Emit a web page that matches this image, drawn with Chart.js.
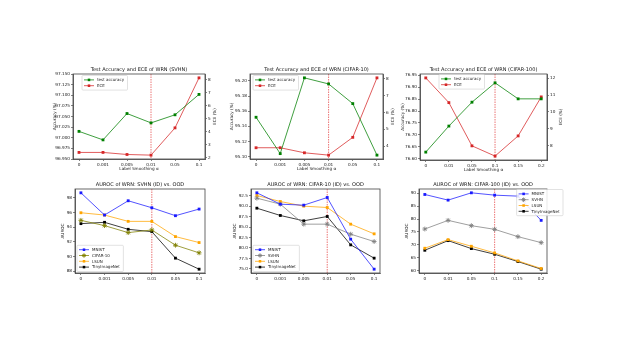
<!DOCTYPE html>
<html>
<head>
<meta charset="utf-8">
<script src="https://cdn.jsdelivr.net/npm/chart.js@4.4.0/dist/chart.umd.min.js"></script>
<style>
  body { margin: 0; background: #fff; width: 620px; height: 349px; position: relative; overflow: hidden; }
  canvas { position: absolute; }
</style>
</head>
<body>
<canvas id="c1"></canvas>
<canvas id="c2"></canvas>
<canvas id="c3"></canvas>
<canvas id="c4"></canvas>
<canvas id="c5"></canvas>
<canvas id="c6"></canvas>
<script>
// label smoothing values (x categories)
const smoothA = ['0', '0.001', '0.005', '0.01', '0.05', '0.1'];
const smoothB = ['0', '0.01', '0.05', '0.1', '0.15', '0.2'];

// test accuracy (%) and ECE (%)
const svhnAcc = [97.015, 96.995, 97.057, 97.035, 97.054, 97.102];
const svhnEce = [2.39, 2.39, 2.23, 2.18, 4.29, 8.16];
const c10Acc = [95.152, 95.104, 95.204, 95.196, 95.170, 95.102];
const c10Ece = [3.90, 3.90, 3.60, 3.46, 4.52, 8.06];
const c100Acc = [76.628, 76.737, 76.837, 76.918, 76.851, 76.851];
const c100Ece = [12.02, 10.55, 7.98, 7.37, 8.57, 10.89];

// AUROC, SVHN as ID
const svhnMnist = [98.68, 95.66, 97.60, 96.65, 95.57, 96.47];
const svhnCifar10 = [94.94, 94.22, 93.27, 93.63, 91.56, 90.52];
const svhnLsun = [95.97, 95.66, 94.80, 94.80, 92.73, 91.92];
const svhnTiny = [94.49, 94.67, 93.72, 93.40, 89.80, 88.30];

// AUROC, CIFAR-10 as ID
const c10Mnist = [93.22, 90.50, 90.26, 92.10, 82.11, 74.92];
const c10Svhn = [91.94, 90.50, 85.71, 85.71, 83.31, 81.55];
const c10Lsun = [92.58, 91.14, 90.02, 89.70, 85.71, 83.39];
const c10Tiny = [89.54, 87.79, 86.51, 87.55, 80.75, 77.56];

// AUROC, CIFAR-100 as ID
const c100Mnist = [89.49, 87.31, 90.13, 89.23, 88.85, 79.49];
const c100Svhn = [76.15, 79.49, 77.44, 76.03, 73.20, 70.90];
const c100Lsun = [68.72, 72.05, 69.49, 66.92, 63.85, 60.90];
const c100Tiny = [67.95, 71.67, 68.59, 66.41, 63.59, 60.64];

// tick labels
const svhnAccTicks = ['96.950', '96.975', '97.000', '97.025', '97.050', '97.075', '97.100', '97.125', '97.150'];
const svhnEceTicks = ['2', '3', '4', '5', '6', '7', '8'];
const c10AccTicks = ['95.10', '95.12', '95.14', '95.16', '95.18', '95.20'];
const c10EceTicks = ['4', '5', '6', '7', '8'];
const c100AccTicks = ['76.60', '76.65', '76.70', '76.75', '76.80', '76.85', '76.90', '76.95'];
const c100EceTicks = ['8', '9', '10', '11', '12'];
const svhnAurocTicks = ['88', '90', '92', '94', '96', '98'];
const c10AurocTicks = ['75.0', '77.5', '80.0', '82.5', '85.0', '87.5', '90.0', '92.5'];
const c100AurocTicks = ['60', '65', '70', '75', '80', '85', '90'];

const FONT = '"DejaVu Sans", sans-serif';
const TXT = '#222';
const FS = 4.2;

// matplotlib-like 5% margin
function lim(arrs) {
  const all = [].concat(...arrs);
  const lo = Math.min(...all), hi = Math.max(...all), m = (hi - lo) * 0.05;
  return [lo - m, hi + m];
}

function ds(label, data, color, style, axis) {
  return {
    label,
    data: data.map((v, i) => ({ x: i, y: v })),
    borderColor: color + 'c0',
    backgroundColor: color,
    pointBackgroundColor: color,
    pointBorderColor: color,
    pointStyle: style,
    pointRadius: style === 'star' ? 2.4 : 2,
    pointBorderWidth: style === 'star' ? 0.9 : 0,
    borderWidth: 1,
    yAxisID: axis || 'y',
    tension: 0
  };
}

function yScale(ticks, range, pos, width, title) {
  return {
    type: 'linear', position: pos, min: range[0], max: range[1],
    afterBuildTicks: s => { s.ticks = ticks.map(t => ({ value: parseFloat(t) })); },
    ticks: {
      callback: (v, i) => ticks[i],
      font: { family: FONT, size: FS }, color: TXT, padding: 1, autoSkip: false
    },
    grid: { drawOnChartArea: false, tickLength: 2, color: '#333', lineWidth: 0.6 },
    border: { color: '#444', width: 0.8 },
    // right-hand title is drawn by the deco plugin so it reads bottom-to-top
    title: { display: pos === 'left', text: title, font: { family: FONT, size: FS }, color: TXT, padding: 0 },
    afterFit: s => { s.width = width; }
  };
}

const deco = {
  id: 'deco',
  beforeDatasetsDraw(chart, args, o) {
    const a = chart.chartArea, ctx = chart.ctx;
    const x = chart.scales.x.getPixelForValue(o.vline);
    ctx.save();
    ctx.strokeStyle = 'rgba(225,50,50,0.75)';
    ctx.lineWidth = 0.9;
    ctx.setLineDash([1.5, 1]);
    ctx.beginPath();
    ctx.moveTo(x, a.top);
    ctx.lineTo(x, a.bottom);
    ctx.stroke();
    ctx.restore();
  },
  afterDraw(chart, args, o) {
    const a = chart.chartArea, ctx = chart.ctx;
    ctx.save();
    ctx.strokeStyle = '#444';
    ctx.lineWidth = 0.8;
    ctx.strokeRect(a.left, a.top, a.right - a.left, a.bottom - a.top);
    // title
    ctx.font = '5px ' + FONT;
    ctx.fillStyle = '#111';
    ctx.textAlign = 'center';
    ctx.textBaseline = 'bottom';
    ctx.fillText(o.title, (a.left + a.right) / 2, a.top - 1.5);
    // right axis title
    const y1 = chart.scales.y1;
    if (y1) {
      ctx.save();
      ctx.font = FS + 'px ' + FONT;
      ctx.fillStyle = TXT;
      ctx.textBaseline = 'middle';
      ctx.translate(y1.right - 2.5, (a.top + a.bottom) / 2);
      ctx.rotate(-Math.PI / 2);
      ctx.fillText(y1.options.title.text, 0, 0);
      ctx.restore();
    }
    // legend inside the axes
    const L = o.legend;
    const items = chart.data.datasets;
    ctx.font = '4px ' + FONT;
    const rowH = 5.8, pad = 1.5;
    const w = Math.max(...items.map(d => ctx.measureText(d.label).width)) + 17 + pad;
    const h = items.length * rowH + pad * 2;
    const x0 = L.at === 'ur' ? a.right + L.dx - w : a.left + L.dx;
    const y0 = L.at === 'll' ? a.bottom - L.dy - h : a.top + L.dy;
    ctx.fillStyle = 'rgba(255,255,255,0.85)';
    ctx.strokeStyle = '#cfcfcf';
    ctx.lineWidth = 0.6;
    ctx.beginPath();
    ctx.roundRect(x0, y0, w, h, 1);
    ctx.fill();
    ctx.stroke();
    ctx.textAlign = 'left';
    ctx.textBaseline = 'middle';
    items.forEach((d, i) => {
      const cy = y0 + pad + rowH * (i + 0.5);
      ctx.strokeStyle = d.borderColor;
      ctx.lineWidth = 1;
      ctx.beginPath();
      ctx.moveTo(x0 + 2, cy);
      ctx.lineTo(x0 + 12, cy);
      ctx.stroke();
      ctx.fillStyle = d.backgroundColor;
      ctx.strokeStyle = d.backgroundColor;
      Chart.helpers.drawPoint(ctx, { pointStyle: d.pointStyle, radius: d.pointRadius * 0.9, rotation: 0, borderWidth: d.pointBorderWidth }, x0 + 7, cy);
      ctx.fillStyle = TXT;
      ctx.fillText(d.label, x0 + 15, cy + 0.3);
    });
    ctx.restore();
  }
};
Chart.register(deco);

// canvas box [x, y, right, bottom], axes area [l, t, r, b]
function makeChart(id, box, area, cats, datasets, yL, yR, xTitle, title, legend) {
  const cv = document.getElementById(id);
  cv.style.left = box[0] + 'px';
  cv.style.top = box[1] + 'px';
  cv.width = box[2] - box[0];
  cv.height = box[3] - box[1];
  const scales = {
    x: {
      type: 'linear', min: -0.25, max: cats.length - 0.75,
      afterBuildTicks: s => { s.ticks = cats.map((_, i) => ({ value: i })); },
      ticks: {
        callback: (v, i) => cats[i],
        font: { family: FONT, size: FS }, color: TXT, padding: 1, maxRotation: 0, autoSkip: false
      },
      grid: { drawOnChartArea: false, tickLength: 2, color: '#333', lineWidth: 0.6 },
      border: { color: '#444', width: 0.8 },
      title: { display: !!xTitle, text: xTitle || '', font: { family: FONT, size: FS }, color: TXT, padding: 0 },
      afterFit: s => { s.height = box[3] - area[3]; }
    },
    y: yScale(yL.ticks, yL.range, 'left', area[0] - box[0], yL.title)
  };
  if (yR) scales.y1 = yScale(yR.ticks, yR.range, 'right', box[2] - area[2], yR.title);
  new Chart(cv, {
    type: 'line',
    data: { datasets },
    options: {
      responsive: false,
      animation: false,
      layout: { padding: { top: area[1] - box[1], left: 0, bottom: 0, right: yR ? 0 : box[2] - area[2] } },
      scales,
      plugins: {
        legend: { display: false },
        tooltip: { enabled: false },
        deco: { title, vline: 3, legend }
      }
    }
  });
}

const G = '#008000', R = '#d62728';
const BL = '#1a1aff', OL = '#808000', OR = '#ffa500', BK = '#000000', GR = '#808080';
const xl = 'Label Smoothing α';

makeChart('c1', [52, 60, 217, 171], [73, 74, 205, 159], smoothA,
  [ds('test accuracy', svhnAcc, G, 'rect'), ds('ECE', svhnEce, R, 'rect', 'y1')],
  { ticks: svhnAccTicks, range: [96.95, 97.15], title: 'Accuracy (%)' },
  { ticks: svhnEceTicks, range: lim([svhnEce]), title: 'ECE (%)' },
  xl, 'Test Accuracy and ECE of WRN (SVHN)', { at: 'ul', dx: 9, dy: 1.5 });

makeChart('c2', [229, 60, 395, 171], [250, 74, 383, 159], smoothA,
  [ds('test accuracy', c10Acc, G, 'rect'), ds('ECE', c10Ece, R, 'rect', 'y1')],
  { ticks: c10AccTicks, range: lim([c10Acc]), title: 'Accuracy (%)' },
  { ticks: c10EceTicks, range: lim([c10Ece]), title: 'ECE (%)' },
  xl, 'Test Accuracy and ECE of WRN (CIFAR-10)', { at: 'ul', dx: 3, dy: 1.5 });

makeChart('c3', [400, 60, 563, 172], [420, 74, 547, 160], smoothB,
  [ds('test accuracy', c100Acc, G, 'rect'), ds('ECE', c100Ece, R, 'rect', 'y1')],
  { ticks: c100AccTicks, range: [76.595, 76.955], title: 'Accuracy (%)' },
  { ticks: c100EceTicks, range: lim([c100Ece]), title: 'ECE (%)' },
  xl, 'Test Accuracy and ECE of WRN (CIFAR-100)', { at: 'ul', dx: 19, dy: 0.5 });

makeChart('c4', [60, 176, 215, 285], [75, 189, 205, 273], smoothA,
  [ds('MNIST', svhnMnist, BL, 'rect'), ds('CIFAR-10', svhnCifar10, OL, 'star'),
   ds('LSUN', svhnLsun, OR, 'rect'), ds('TinyImageNet', svhnTiny, BK, 'rect')],
  { ticks: svhnAurocTicks, range: lim([svhnMnist, svhnCifar10, svhnLsun, svhnTiny]), title: 'AUROC' },
  null, null, 'AUROC of WRN: SVHN (ID) vs. OOD', { at: 'll', dx: 2, dy: 1.5 });

makeChart('c5', [232, 176, 390, 285], [251, 189, 380, 273], smoothA,
  [ds('MNIST', c10Mnist, BL, 'rect'), ds('SVHN', c10Svhn, GR, 'star'),
   ds('LSUN', c10Lsun, OR, 'rect'), ds('TinyImageNet', c10Tiny, BK, 'rect')],
  { ticks: c10AurocTicks, range: lim([c10Mnist, c10Svhn, c10Lsun, c10Tiny]), title: 'AUROC' },
  null, null, 'AUROC of WRN: CIFAR-10 (ID) vs. OOD', { at: 'll', dx: 2, dy: 1.5 });

makeChart('c6', [404, 176, 566, 285], [419, 189, 547, 273], smoothB,
  [ds('MNIST', c100Mnist, BL, 'rect'), ds('SVHN', c100Svhn, GR, 'star'),
   ds('LSUN', c100Lsun, OR, 'rect'), ds('TinyImageNet', c100Tiny, BK, 'rect')],
  { ticks: c100AurocTicks, range: lim([c100Mnist, c100Svhn, c100Lsun, c100Tiny]), title: 'AUROC' },
  null, null, 'AUROC of WRN: CIFAR-100 (ID) vs. OOD', { at: 'ur', dx: 16, dy: 0.5 });
</script>
</body>
</html>
